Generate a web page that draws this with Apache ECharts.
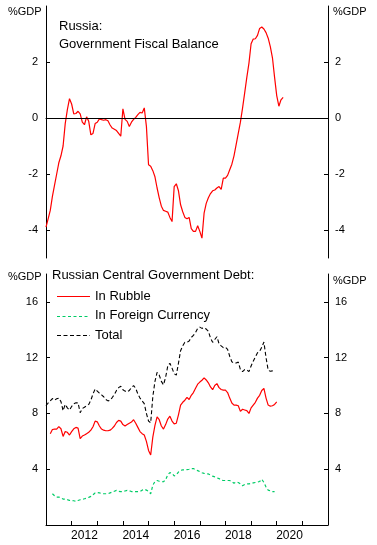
<!DOCTYPE html>
<html><head><meta charset="utf-8">
<script src="https://cdn.jsdelivr.net/npm/echarts@6/dist/echarts.min.js"></script>
<style>html,body{margin:0;padding:0;background:#fff}#c{width:377px;height:545px}</style>
</head><body><div id="c"></div>
<script>
// Monthly data; month index 0 = Jan 2011
const START_YEAR = 2011;
const fiscalStart = 0;
const fiscalBalance = [
-3.9,-3.6,-3.3,-2.8,-2.4,-2.0,-1.6,-1.35,-1.0,-0.2,
0.3,0.69,0.5,0.15,0.16,0.24,0.15,-0.15,-0.24,0.04,
-0.12,-0.6,-0.55,-0.2,-0.15,-0.03,-0.06,-0.08,-0.06,-0.1,
-0.25,-0.36,-0.4,-0.45,-0.55,-0.65,0.33,-0.05,-0.12,-0.3,
-0.15,-0.05,0.02,0.12,0.2,0.18,0.36,-0.3,-1.67,-1.72,
-1.88,-2.1,-2.5,-2.85,-3.15,-3.3,-3.33,-3.36,-3.55,-3.7,
-2.45,-2.35,-2.6,-3.1,-3.35,-3.55,-3.6,-3.55,-3.95,-4.05,
-4.05,-3.85,-4.05,-4.29,-3.4,-3.05,-2.85,-2.7,-2.6,-2.57,
-2.5,-2.45,-2.55,-2.15,-2.15,-2.05,-1.85,-1.65,-1.35,-0.95,
-0.55,-0.15,0.35,0.9,1.45,1.96,2.65,2.82,2.83,2.95,
3.2,3.25,3.18,3.05,2.85,2.55,2.15,1.45,0.8,0.42,
0.65,0.74];

const rubbleStart = 2;
const debtRubble = [
6.55,6.85,6.88,6.88,7.05,6.9,6.35,6.7,
6.65,6.45,6.7,6.9,7.0,6.95,6.2,6.38,6.45,6.55,
6.65,6.8,7.05,7.45,7.4,7.1,6.88,6.8,6.76,6.76,
6.8,6.93,7.1,7.35,7.5,7.45,7.2,7.1,7.2,7.3,
7.38,7.55,7.3,7.0,6.7,6.55,6.45,6.0,5.35,5.02,
6.3,7.15,7.75,7.55,7.1,6.88,7.2,7.6,7.8,7.45,
7.25,7.3,7.9,8.6,8.8,8.95,9.15,9.0,9.3,9.5,
9.8,10.1,10.25,10.38,10.55,10.4,10.2,9.9,9.7,10.0,
10.14,9.85,9.72,9.67,9.67,9.5,9.1,8.75,8.6,8.6,
8.55,8.15,8.3,8.25,8.2,8.0,8.4,8.6,8.8,9.1,
9.3,9.65,9.79,9.1,8.6,8.52,8.55,8.65,8.83];

const foreignStart = 3;
const debtForeign = [
2.24,2.1,2.0,2.0,1.95,1.86,1.86,
1.82,1.76,1.76,1.74,1.69,1.76,1.81,1.84,1.88,1.93,
1.98,2.05,2.17,2.3,2.33,2.3,2.26,2.24,2.24,2.24,
2.3,2.36,2.42,2.48,2.42,2.4,2.4,2.44,2.48,2.45,
2.4,2.4,2.4,2.4,2.4,2.5,2.57,2.5,2.42,2.24,
2.85,3.12,3.19,3.14,3.1,3.1,3.25,3.6,3.76,3.7,
3.52,3.6,3.8,3.92,3.95,3.95,3.97,4.0,4.05,4.05,
3.97,3.9,3.83,3.75,3.7,3.68,3.66,3.58,3.5,3.45,
3.38,3.33,3.22,3.19,3.19,3.19,3.19,3.1,3.0,3.08,
3.05,2.95,2.82,2.9,2.95,2.95,2.97,3.02,3.05,3.08,
3.12,3.28,3.05,2.72,2.5,2.45,2.4,2.4];

const totalStart = 0;
const debtTotal = [
8.55,8.75,8.9,9.07,8.95,9.05,9.1,8.85,8.2,8.65,
8.4,8.25,8.5,8.7,8.76,8.76,8.05,8.35,8.45,8.55,
8.65,8.95,9.4,9.75,9.6,9.45,9.33,9.2,9.0,8.9,
8.95,9.14,9.35,9.65,9.85,9.95,9.7,9.6,9.55,9.65,
9.85,10.0,9.8,9.4,9.1,8.9,8.7,8.0,7.45,7.33,
9.2,10.3,10.95,10.75,10.3,10.05,10.6,11.4,11.6,11.25,
10.85,10.75,11.6,12.5,12.85,13.1,13.1,13.2,13.45,13.6,
13.8,14.1,14.19,14.1,14.15,14.05,13.9,13.4,13.1,13.3,
13.5,13.0,12.85,12.72,12.75,12.6,12.1,11.7,11.62,11.62,
11.68,11.15,11.0,11.15,11.12,11.0,11.4,11.75,12.05,12.35,
12.45,12.75,13.12,12.0,11.1,11.02,11.05,11.05];

const xLabelYears = [2012, 2014, 2016, 2018, 2020];
const topTicks = [-4, -2, 0, 2];
const bottomTicks = [4, 8, 12, 16];
const titleTop = ['Russia:', 'Government Fiscal Balance'];
const titleBottom = 'Russian Central Government Debt:';
const legendNames = ['In Rubble', 'In Foreign Currency', 'Total'];
const unitLabel = '%GDP';

function toXY(arr, start) {
  return arr.map((v, i) => [START_YEAR + (start + i) / 12, v]);
}

const FONT = '"Liberation Sans", Arial, sans-serif';
const black = '#000';
const RED = '#ff0000', GREEN = '#00cc66';
const lbl = { color: black, fontFamily: FONT, fontSize: 11 };

const chart = echarts.init(document.getElementById('c'), null, { renderer: 'canvas' });

function yAx(gridIndex, pos, min, max, ticks, margin) {
  return {
    type: 'value', gridIndex, position: pos, min, max,
    axisLine: { show: true, lineStyle: { color: black, width: 1 } },
    axisTick: { show: true, inside: true, length: 4, customValues: ticks, lineStyle: { color: black } },
    axisLabel: { show: true, customValues: ticks, margin, ...lbl },
    splitLine: { show: false }
  };
}

function txt(x, y, text, size) {
  return { type: 'text', x, y, silent: true,
    style: { text, fill: black, font: size + 'px ' + FONT, textVerticalAlign: 'middle', verticalAlign: 'middle' } };
}

const legendStyles = [
  { color: RED, type: 'solid' },
  { color: GREEN, type: [3, 2.5] },
  { color: black, type: [4, 2.5] }
];
const legendY = [296, 315.5, 335];
const legendGraphics = [];
legendNames.forEach((name, i) => {
  const ly = Math.round(legendY[i]) + 0.5;
  legendGraphics.push({ type: 'line', silent: true,
    shape: { x1: 57, y1: ly, x2: 90, y2: ly },
    style: { stroke: legendStyles[i].color, lineWidth: 1.2,
      lineDash: legendStyles[i].type === 'solid' ? null : legendStyles[i].type } });
  legendGraphics.push(txt(95, legendY[i], name, 13));
});

const option = {
  animation: false,
  backgroundColor: '#fff',
  grid: [
    { left: 46, right: 49, top: 6, height: 252 },
    { left: 46, right: 49, top: 274, height: 251 }
  ],
  xAxis: [
    { type: 'value', gridIndex: 0, min: 2011, max: 2022, position: 'top',
      axisLine: { show: true, lineStyle: { color: black } },
      axisTick: { show: false }, axisLabel: { show: false }, splitLine: { show: false } },
    { type: 'value', gridIndex: 1, min: 2011, max: 2022, interval: 1, position: 'bottom',
      axisLine: { show: true, onZero: false, lineStyle: { color: black } },
      axisTick: { show: true, inside: true, length: 4, lineStyle: { color: black } },
      axisLabel: { show: true, customValues: xLabelYears.map(y => y + 0.5),
        formatter: v => String(Math.floor(v)), margin: 5, color: black, fontFamily: FONT, fontSize: 12 },
      splitLine: { show: false } }
  ],
  yAxis: [
    yAx(0, 'left', -5, 4, topTicks, 8),
    yAx(0, 'right', -5, 4, topTicks, 7),
    yAx(1, 'left', 0, 18, bottomTicks, 8),
    yAx(1, 'right', 0, 18, bottomTicks, 7)
  ],
  series: [
    { type: 'line', name: 'fiscal', xAxisIndex: 0, yAxisIndex: 0, data: toXY(fiscalBalance, fiscalStart),
      symbol: 'none', lineStyle: { color: RED, width: 1.2 }, itemStyle: { color: RED },
      markLine: { silent: true, symbol: 'none', label: { show: false },
        lineStyle: { color: black, type: 'solid', width: 1 }, data: [{ yAxis: 0 }] } },
    { type: 'line', name: legendNames[0], xAxisIndex: 1, yAxisIndex: 2, data: toXY(debtRubble, rubbleStart),
      symbol: 'none', lineStyle: { color: RED, width: 1.2 }, itemStyle: { color: RED } },
    { type: 'line', name: legendNames[1], xAxisIndex: 1, yAxisIndex: 2, data: toXY(debtForeign, foreignStart),
      symbol: 'none', lineStyle: { color: GREEN, width: 1.2, type: [3, 2.5] }, itemStyle: { color: GREEN } },
    { type: 'line', name: legendNames[2], xAxisIndex: 1, yAxisIndex: 2, data: toXY(debtTotal, totalStart),
      symbol: 'none', lineStyle: { color: black, width: 1.1, type: [4, 2.5] }, itemStyle: { color: black } }
  ],
  graphic: [
    txt(8, 12, unitLabel, 11),
    txt(333, 12, unitLabel, 11),
    txt(8, 277, unitLabel, 11),
    txt(333, 281, unitLabel, 11),
    txt(59, 26, titleTop[0], 13),
    txt(59, 44, titleTop[1], 13),
    txt(52, 275, titleBottom, 13)
  ].concat(legendGraphics)
};
chart.setOption(option);
</script></body></html>
